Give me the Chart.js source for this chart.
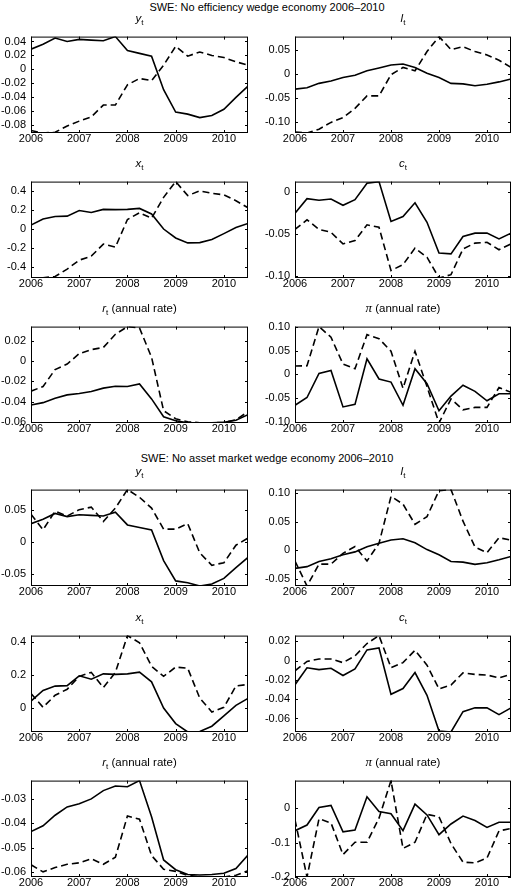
<!DOCTYPE html>
<html>
<head>
<meta charset="utf-8">
<title>SWE wedge economies 2006-2010</title>
<script src="https://cdn.jsdelivr.net/npm/chart.js@4.4.0/dist/chart.umd.min.js"></script>
<style>
  body { margin: 0; background: #fff; }
  #page { position: relative; width: 512px; height: 893px; overflow: hidden; font-family: "Liberation Sans", Arial, sans-serif; color: #000; }
  .head { position: absolute; left: 0; width: 534px; text-align: center; font-size: 11px; line-height: 14px; white-space: nowrap; }
  .ptitle { position: absolute; text-align: center; font-size: 11.5px; line-height: 14px; white-space: nowrap; }
  .ptitle sub { font-size: 8px; vertical-align: -3px; line-height: 0; }
  .ptitle .sym { font-family: "Liberation Serif", serif; font-size: 13px; font-style: italic; }
  canvas { position: absolute; }
</style>
</head>
<body>
<div id="page">
  <div class="head" style="top:0px">SWE: No efficiency wedge economy 2006–2010</div>
  <div class="head" style="top:451px">SWE: No asset market wedge economy 2006–2010</div>
</div>
<script>
// quarters 2006Q1 .. 2010Q3
const quarters = [2006, 2006.25, 2006.5, 2006.75, 2007, 2007.25, 2007.5, 2007.75, 2008, 2008.25,
  2008.5, 2008.75, 2009, 2009.25, 2009.5, 2009.75, 2010, 2010.25, 2010.5];
const yearTicks = ["2006", "2007", "2008", "2009", "2010"];

// solid lines: data (same in both economies)
const yData = [0.029, 0.036, 0.045, 0.040, 0.043, 0.042, 0.041, 0.047, 0.027, 0.023, 0.019, -0.029, -0.061, -0.064, -0.069, -0.066, -0.057, -0.040, -0.024];
const lData = [-0.032, -0.029, -0.020, -0.015, -0.008, -0.003, 0.006, 0.012, 0.018, 0.020, 0.013, 0.001, -0.008, -0.020, -0.021, -0.025, -0.022, -0.017, -0.011];
const xData = [0.042, 0.106, 0.132, 0.135, 0.194, 0.174, 0.206, 0.203, 0.206, 0.216, 0.158, 0.0, -0.094, -0.145, -0.142, -0.110, -0.048, 0.016, 0.058];
const cData = [-0.025, -0.0075, -0.0094, -0.008, -0.0155, -0.0087, 0.011, 0.013, -0.035, -0.029, -0.0125, -0.036, -0.073, -0.074, -0.053, -0.049, -0.049, -0.056, -0.049];
const rData = [-0.0434, -0.041, -0.0367, -0.0333, -0.032, -0.030, -0.0266, -0.0247, -0.025, -0.0225, -0.0373, -0.055, -0.059, -0.061, -0.0612, -0.061, -0.0605, -0.0585, -0.053];
const piData = [-0.0655, -0.049, 0.002, 0.008, -0.069, -0.0636, 0.0328, -0.0098, -0.0164, -0.0655, 0.0118, -0.0197, -0.077, -0.046, -0.023, -0.036, -0.056, -0.041, -0.041];

// dashed lines: no efficiency wedge economy
const yNoEff = [-0.0875, -0.091, -0.090, -0.081, -0.074, -0.068, -0.051, -0.051, -0.022, -0.013, -0.016, 0.006, 0.033, 0.019, 0.025, 0.020, 0.017, 0.011, 0.006];
const lNoEff = [-0.121, -0.123, -0.115, -0.101, -0.091, -0.072, -0.046, -0.046, -0.002, 0.013, 0.006, 0.046, 0.077, 0.050, 0.056, 0.046, 0.039, 0.028, 0.013];
const xNoEff = [-0.513, -0.51, -0.497, -0.42, -0.326, -0.284, -0.158, -0.19, 0.1, 0.171, 0.113, 0.332, 0.497, 0.35, 0.4, 0.374, 0.358, 0.297, 0.223];
const cNoEff = [-0.0445, -0.033, -0.0445, -0.048, -0.062, -0.058, -0.039, -0.042, -0.094, -0.087, -0.067, -0.078, -0.103, -0.099, -0.068, -0.061, -0.060, -0.069, -0.062];
const rNoEff = [-0.0296, -0.025, -0.0082, -0.0027, 0.0076, 0.0116, 0.0137, 0.0268, 0.0344, 0.033, 0.004, -0.049, -0.057, -0.060, -0.061, -0.061, -0.0605, -0.058, -0.050];
const piNoEff = [0.0177, 0.018, 0.101, 0.0786, 0.0216, 0.0118, 0.084, 0.0754, 0.049, -0.0295, 0.049, -0.026, -0.103, -0.052, -0.075, -0.070, -0.070, -0.028, -0.038];

// dashed lines: no asset market wedge economy
const yNoAsset = [0.0437, 0.0194, 0.0485, 0.041, 0.051, 0.055, 0.0325, 0.0534, 0.0825, 0.0704, 0.0534, 0.0204, 0.0204, 0.029, -0.017, -0.0364, -0.0325, -0.0049, 0.0063];
const lNoAsset = [-0.019, -0.063, -0.0245, -0.0245, -0.0055, 0.0065, -0.019, 0.012, 0.0945, 0.081, 0.0455, 0.059, 0.1047, 0.1065, 0.051, 0.0055, -0.0044, 0.022, 0.0175];
const xNoAsset = [0.087, 0.004, 0.077, 0.113, 0.191, 0.215, 0.123, 0.215, 0.437, 0.394, 0.252, 0.191, 0.247, 0.24, 0.059, -0.024, 0.004, 0.133, 0.142];
const cNoAsset = [-0.0106, -0.001, 0.0016, 0.0016, -0.0022, 0.0048, 0.0176, 0.0258, -0.0074, -0.0022, 0.0106, -0.0048, -0.0294, -0.0253, -0.0128, -0.0144, -0.015, -0.018, -0.0144];
const rNoAsset = [-0.057, -0.0599, -0.0581, -0.0568, -0.0562, -0.0545, -0.0568, -0.0539, -0.037, -0.0383, -0.0532, -0.0588, -0.0597, -0.0613, -0.062, -0.062, -0.062, -0.0613, -0.0594];
const piNoAsset = [-0.034, -0.2, -0.031, -0.043, -0.135, -0.099, -0.099, -0.029, 0.08, -0.117, -0.099, -0.018, -0.025, -0.103, -0.157, -0.159, -0.145, -0.066, -0.059];

// y tick labels
const yTicksNoEff = ["-0.08", "-0.06", "-0.04", "-0.02", "0", "0.02", "0.04"];
const lTicksNoEff = ["-0.10", "-0.05", "0", "0.05"];
const xTicksNoEff = ["-0.4", "-0.2", "0", "0.2", "0.4"];
const cTicksNoEff = ["-0.10", "-0.05", "0"];
const rTicksNoEff = ["-0.06", "-0.04", "-0.02", "0", "0.02"];
const piTicksNoEff = ["-0.10", "-0.05", "0", "0.05", "0.10"];
const yTicksNoAsset = ["-0.05", "0", "0.05"];
const lTicksNoAsset = ["-0.05", "0", "0.05", "0.10"];
const xTicksNoAsset = ["0", "0.2", "0.4"];
const cTicksNoAsset = ["-0.06", "-0.04", "-0.02", "0", "0.02"];
const rTicksNoAsset = ["-0.06", "-0.05", "-0.04", "-0.03"];
const piTicksNoAsset = ["-0.2", "-0.1", "0"];

// layout
const colLeft = [31, 295];
const colWidth = [217, 216];
const rowTop = [28, 173, 318, 481, 627, 772];
const plotHeight = 105;

const tY = '<i>y</i><sub>t</sub>';
const tL = '<i>l</i><sub>t</sub>';
const tX = '<i>x</i><sub>t</sub>';
const tC = '<i>c</i><sub>t</sub>';
const tR = '<i>r</i><sub>t</sub> (annual rate)';
const tPi = '<span class="sym">π</span> (annual rate)';

const panels = [
  { col: 0, row: 0, title: tY, solid: yData, dashed: yNoEff, ticks: yTicksNoEff },
  { col: 1, row: 0, title: tL, solid: lData, dashed: lNoEff, ticks: lTicksNoEff },
  { col: 0, row: 1, title: tX, solid: xData, dashed: xNoEff, ticks: xTicksNoEff },
  { col: 1, row: 1, title: tC, solid: cData, dashed: cNoEff, ticks: cTicksNoEff },
  { col: 0, row: 2, title: tR, solid: rData, dashed: rNoEff, ticks: rTicksNoEff },
  { col: 1, row: 2, title: tPi, solid: piData, dashed: piNoEff, ticks: piTicksNoEff },
  { col: 0, row: 3, title: tY, solid: yData, dashed: yNoAsset, ticks: yTicksNoAsset },
  { col: 1, row: 3, title: tL, solid: lData, dashed: lNoAsset, ticks: lTicksNoAsset },
  { col: 0, row: 4, title: tX, solid: xData, dashed: xNoAsset, ticks: xTicksNoAsset },
  { col: 1, row: 4, title: tC, solid: cData, dashed: cNoAsset, ticks: cTicksNoAsset },
  { col: 0, row: 5, title: tR, solid: rData, dashed: rNoAsset, ticks: rTicksNoAsset },
  { col: 1, row: 5, title: tPi, solid: piData, dashed: piNoAsset, ticks: piTicksNoAsset },
];

// matlab style box with inward ticks
const boxTicks = {
  id: "boxTicks",
  afterDraw(chart) {
    const { ctx, chartArea: a, scales } = chart;
    const len = 3;
    ctx.save();
    ctx.strokeStyle = "#000";
    ctx.lineWidth = 1;
    ctx.beginPath();
    scales.x.ticks.forEach((t) => {
      const px = Math.round(scales.x.getPixelForValue(t.value)) + 0.5;
      ctx.moveTo(px, a.bottom); ctx.lineTo(px, a.bottom - len);
      ctx.moveTo(px, a.top); ctx.lineTo(px, a.top + len);
    });
    scales.y.ticks.forEach((t) => {
      const py = Math.round(scales.y.getPixelForValue(t.value)) + 0.5;
      ctx.moveTo(a.left, py); ctx.lineTo(a.left + len, py);
      ctx.moveTo(a.right, py); ctx.lineTo(a.right - len, py);
    });
    ctx.stroke();
    ctx.strokeRect(a.left + 0.5, a.top + 0.5, a.right - a.left - 1, a.bottom - a.top - 1);
    ctx.restore();
  },
};

const page = document.getElementById("page");
const tickFont = { family: '"Liberation Sans", Arial, sans-serif', size: 11 };

function makePanel(p) {
  const left = colLeft[p.col], top = rowTop[p.row], w = colWidth[p.col];
  const axisW = p.col === 0 ? left : left - 252;
  const padTop = 3, padRight = 3, axisH = 22;

  const canvas = document.createElement("canvas");
  canvas.width = axisW + w + padRight;
  canvas.height = padTop + plotHeight + axisH;
  canvas.style.left = (left - axisW) + "px";
  canvas.style.top = (top - padTop) + "px";
  page.appendChild(canvas);

  const title = document.createElement("div");
  title.className = "ptitle";
  title.innerHTML = p.title;
  title.style.left = left + "px";
  title.style.width = w + "px";
  title.style.top = (top - 17) + "px";
  page.appendChild(title);

  const all = p.solid.concat(p.dashed);
  const yMin = Math.min(...all), yMax = Math.max(...all);
  const tickVals = p.ticks.map(Number);

  new Chart(canvas, {
    type: "line",
    data: {
      datasets: [
        {
          data: quarters.map((q, i) => ({ x: q, y: p.solid[i] })),
          borderColor: "#000",
          borderWidth: 1.6,
          pointRadius: 0,
          tension: 0,
        },
        {
          data: quarters.map((q, i) => ({ x: q, y: p.dashed[i] })),
          borderColor: "#000",
          borderWidth: 1.6,
          borderDash: [7, 4],
          pointRadius: 0,
          tension: 0,
        },
      ],
    },
    options: {
      responsive: false,
      animation: false,
      events: [],
      layout: { padding: { top: padTop, right: padRight, left: 0, bottom: 0 } },
      plugins: { legend: { display: false }, tooltip: { enabled: false } },
      scales: {
        x: {
          type: "linear",
          min: 2006,
          max: 2010.5,
          bounds: "data",
          grid: { display: false, drawTicks: false },
          border: { display: false },
          ticks: {
            color: "#000",
            font: tickFont,
            padding: -1,
            maxRotation: 0,
            autoSkip: false,
            callback: (v, i) => yearTicks[i],
          },
          afterBuildTicks: (s) => {
            s.ticks = yearTicks.map((t) => ({ value: Number(t) }));
          },
          afterFit: (s) => { s.height = axisH; },
        },
        y: {
          type: "linear",
          min: yMin,
          max: yMax,
          bounds: "data",
          grid: { display: false, drawTicks: false },
          border: { display: false },
          ticks: {
            color: "#000",
            font: tickFont,
            padding: 5,
            autoSkip: false,
            callback: (v) => {
              const k = tickVals.findIndex((t) => Math.abs(t - v) < 1e-9);
              return k >= 0 ? p.ticks[k] : "";
            },
          },
          afterBuildTicks: (s) => {
            s.ticks = tickVals.filter((t) => t >= yMin - 1e-9 && t <= yMax + 1e-9).map((t) => ({ value: t }));
          },
          afterFit: (s) => { s.width = axisW; },
        },
      },
    },
    plugins: [boxTicks],
  });
}

panels.forEach(makePanel);
</script>
</body>
</html>
